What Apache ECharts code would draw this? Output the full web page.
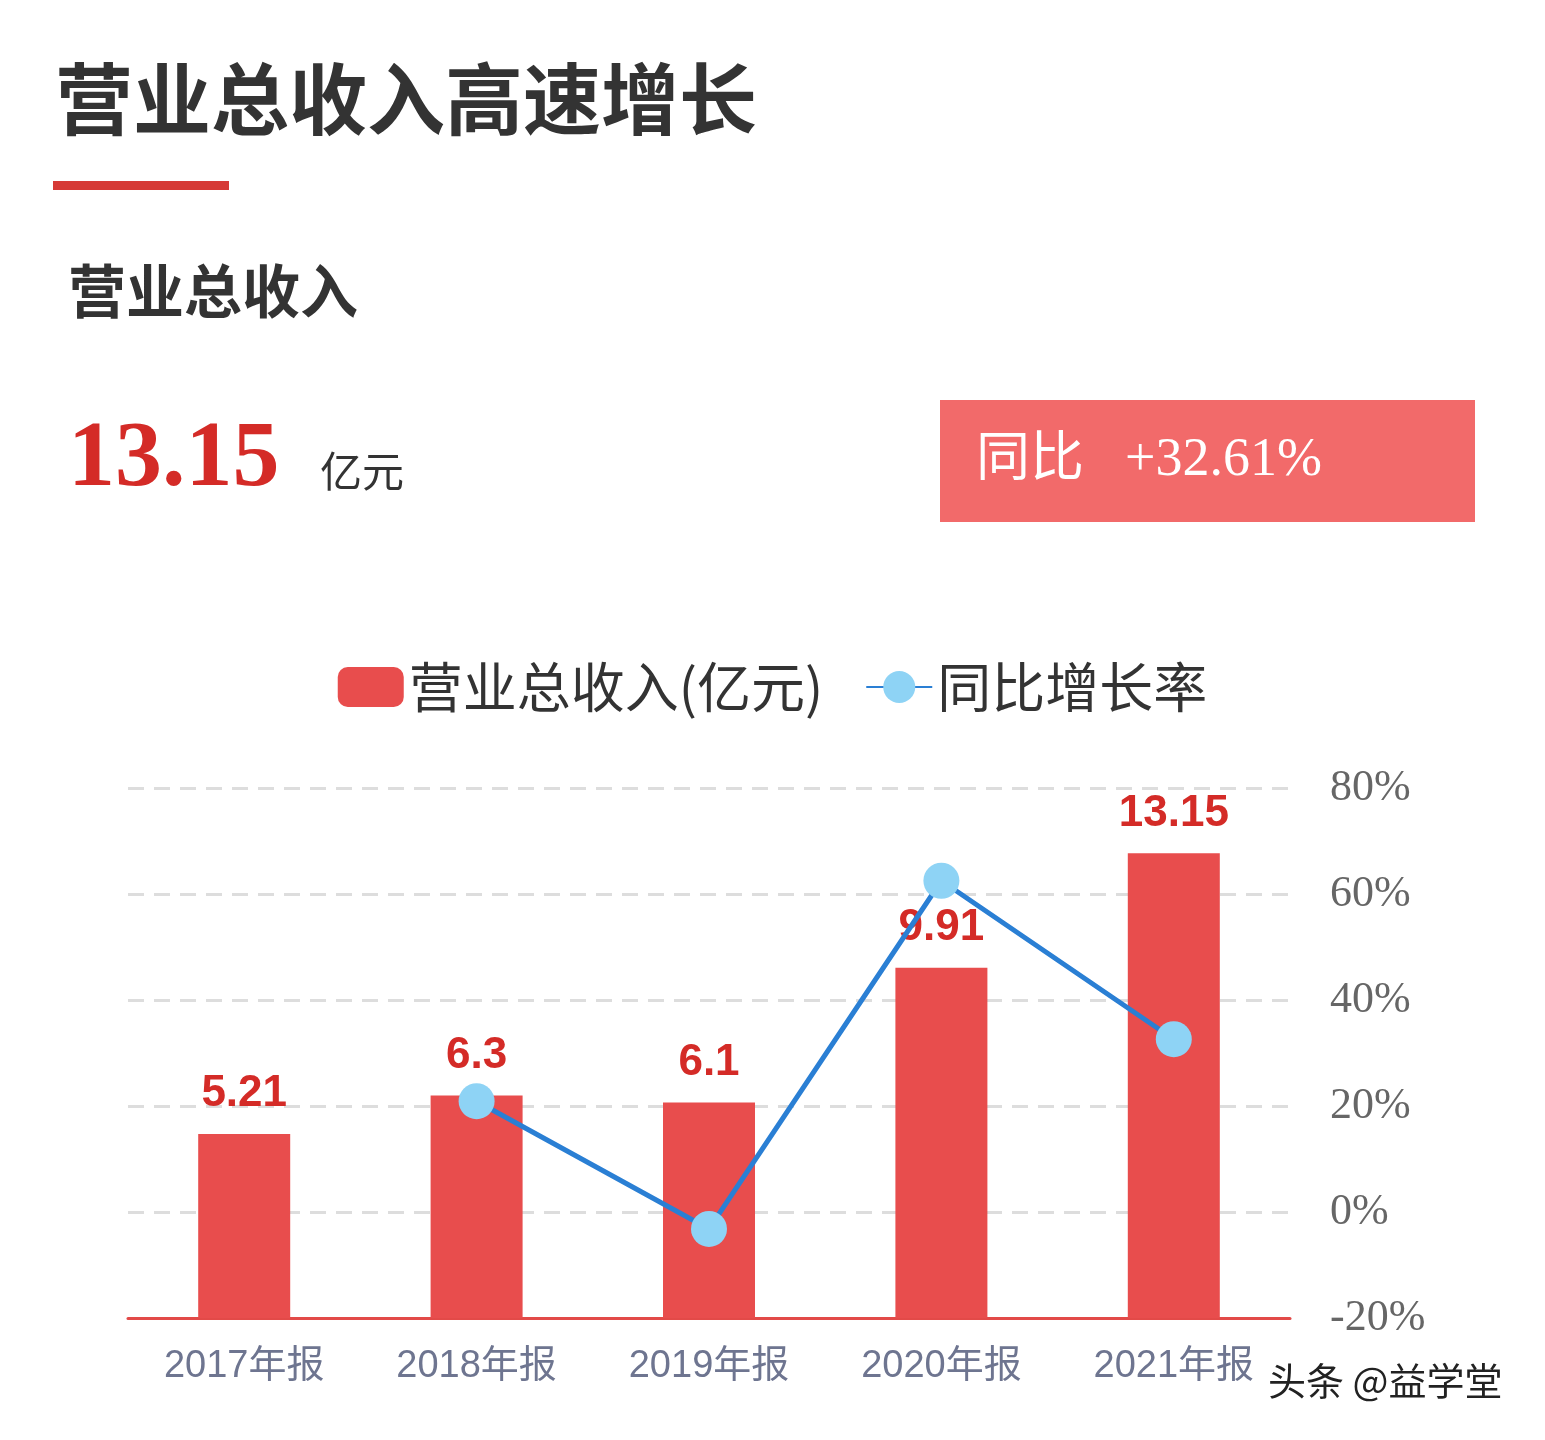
<!DOCTYPE html>
<html>
<head>
<meta charset="utf-8">
<script src="https://cdn.jsdelivr.net/npm/echarts@6/dist/echarts.min.js"></script>
<style>
  html, body { margin: 0; padding: 0; background: #fff; }
  #chart { width: 1545px; height: 1440px; }
</style>
</head>
<body>
<div id="chart"></div>
<script>
// data
const categories = ['2017年报', '2018年报', '2019年报', '2020年报', '2021年报'];
const revenue = [5.21, 6.3, 6.1, 9.91, 13.15];
const growth = [null, 20.9, -3.2, 62.5, 32.6];
const pctTicks = [-20, 0, 20, 40, 60, 80];

const cjk = '"Noto Sans CJK SC", "Noto Sans", sans-serif';
const chart = echarts.init(document.getElementById('chart'));

chart.setOption({
    backgroundColor: '#fff',
    graphic: [
        { type: 'text', left: 55, top: 60, style: { text: '营业总收入高速增长', font: 'bold 78px ' + cjk, fill: '#333' } },
        { type: 'rect', left: 53, top: 181, shape: { width: 176, height: 9 }, style: { fill: '#d63a36' } },
        { type: 'text', left: 68, top: 262, style: { text: '营业总收入', font: 'bold 58px ' + cjk, fill: '#333' } },
        { type: 'text', left: 68, top: 414, style: { text: '13.15', font: 'bold 94px "Liberation Serif", serif', fill: '#d42b27' } },
        { type: 'text', left: 320, top: 450, style: { text: '亿元', font: '42px ' + cjk, fill: '#333' } },
        { type: 'rect', left: 940, top: 400, shape: { width: 535, height: 122 }, style: { fill: '#f26a6a' } },
        { type: 'text', left: 976, top: 428, style: { text: '同比', font: '54px ' + cjk, fill: '#fff' } },
        { type: 'text', left: 1125, top: 434, style: { text: '+32.61%', font: '54px "Liberation Serif", serif', fill: '#fff' } },
        { type: 'text', left: 1268, top: 1362, style: { text: '头条 @益学堂', font: '38px ' + cjk, fill: '#222' } }
    ],
    legend: {
        top: 655,
        left: 'center',
        itemWidth: 66,
        itemHeight: 40,
        itemGap: 42,
        textStyle: { fontSize: 54, color: '#333', fontFamily: cjk },
        data: [
            { name: '营业总收入(亿元)', icon: 'roundRect' },
            { name: '同比增长率' }
        ]
    },
    grid: { left: 128, right: 255, top: 788, bottom: 122 },
    xAxis: {
        type: 'category',
        data: categories,
        axisLine: { lineStyle: { color: '#e24a48', width: 3 } },
        axisTick: { show: false },
        axisLabel: { fontSize: 38, color: '#6e7590', margin: 30, fontFamily: '"Liberation Sans", ' + cjk }
    },
    yAxis: [
        { type: 'value', min: 0, max: 15, interval: 3, show: false, splitLine: { show: false } },
        {
            type: 'value', position: 'right', min: -20, max: 80, interval: 20,
            axisLine: { show: false }, axisTick: { show: false },
            axisLabel: { formatter: '{value}%', fontSize: 44, color: '#666', margin: 40, fontFamily: '"Liberation Serif", serif' },
            splitLine: { lineStyle: { type: [16, 10], color: '#ddd', width: 3 } }
        }
    ],
    series: [
        {
            name: '营业总收入(亿元)',
            type: 'bar',
            yAxisIndex: 0,
            data: revenue,
            barWidth: 92,
            itemStyle: { color: '#e84d4d' },
            label: { show: true, position: 'top', fontSize: 44, fontWeight: 'bold', color: '#d42b27', distance: 18 }
        },
        {
            name: '同比增长率',
            type: 'line',
            yAxisIndex: 1,
            data: growth,
            symbol: 'circle',
            symbolSize: 36,
            lineStyle: { color: '#2a7fd4', width: 5 },
            itemStyle: { color: '#8ed3f5' },
            z: 5
        }
    ]
});
</script>
</body>
</html>
